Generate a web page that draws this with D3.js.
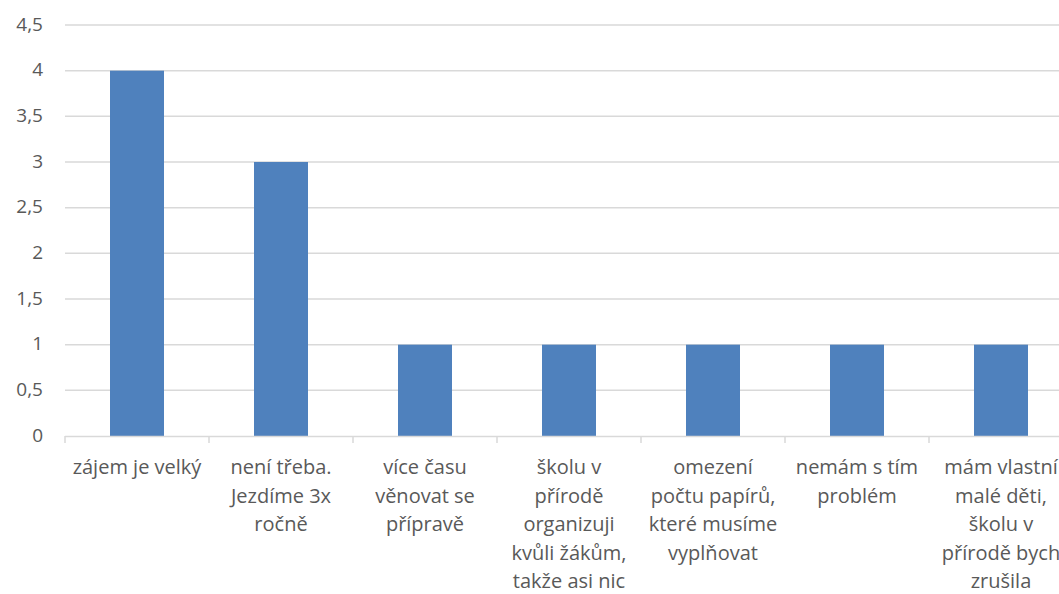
<!DOCTYPE html>
<html>
<head>
<meta charset="utf-8">
<script src="https://cdn.jsdelivr.net/npm/d3@7"></script>
<style>
  body { margin: 0; background: #fff; overflow: hidden; }
  svg text { font-family: "Open Sans", "Noto Sans", sans-serif; fill: #595959; }
</style>
</head>
<body>
<svg id="graf" width="1059" height="594"></svg>
<script>
// data
const categories = [
  "zájem je velký",
  "není třeba.\nJezdíme 3x\nročně",
  "více času\nvěnovat se\npřípravě",
  "školu v\npřírodě\norganizuji\nkvůli žákům,\ntakže asi nic",
  "omezení\npočtu papírů,\nkteré musíme\nvyplňovat",
  "nemám s tím\nproblém",
  "mám vlastní\nmalé děti,\nškolu v\npřírodě bych\nzrušila"
];
const values = [4, 3, 1, 1, 1, 1, 1];
const yTicks = [0, 0.5, 1, 1.5, 2, 2.5, 3, 3.5, 4, 4.5];

const svg = d3.select("#graf");
const plotLeft = 65, plotRight = 1073, plotTop = 25, plotBottom = 436;

const xScale = d3.scaleBand()
  .domain(d3.range(categories.length))
  .range([plotLeft, plotRight])
  .paddingInner(0)
  .paddingOuter(0);

const yScale = d3.scaleLinear()
  .domain([0, 4.5])
  .range([plotBottom, plotTop]);

const fmt = d => String(d).replace(".", ",");

// gridlines
svg.append("g")
  .selectAll("line")
  .data(yTicks.filter(d => d > 0))
  .enter()
  .append("line")
  .attr("x1", plotLeft)
  .attr("x2", plotRight)
  .attr("y1", d => yScale(d))
  .attr("y2", d => yScale(d))
  .attr("stroke", "#d9d9d9")
  .attr("stroke-width", 1.5);

// y labels
const yAxis = d3.axisLeft(yScale).tickValues(yTicks).tickFormat(fmt).tickSize(0).tickPadding(0);
const yg = svg.append("g")
  .attr("transform", "translate(43,-1)")
  .call(yAxis);
yg.select(".domain").remove();
yg.selectAll("text")
  .attr("font-size", 19)
  .attr("font-family", "'Open Sans', sans-serif")
  .attr("fill", "#595959");

// bars
const barW = 54;
svg.selectAll("rect.bar")
  .data(values)
  .enter()
  .append("rect")
  .attr("class", "bar")
  .attr("x", (d, i) => xScale(i) + xScale.bandwidth() / 2 - barW / 2)
  .attr("y", d => yScale(d))
  .attr("width", barW)
  .attr("height", d => plotBottom - yScale(d))
  .attr("fill", "#4f81bd");

// x axis line + ticks
svg.append("line")
  .attr("x1", plotLeft).attr("x2", plotRight)
  .attr("y1", plotBottom + 0.5).attr("y2", plotBottom + 0.5)
  .attr("stroke", "#d9d9d9").attr("stroke-width", 1.5);

svg.append("g")
  .selectAll("line")
  .data(d3.range(categories.length + 1))
  .enter()
  .append("line")
  .attr("x1", i => plotLeft + i * xScale.bandwidth())
  .attr("x2", i => plotLeft + i * xScale.bandwidth())
  .attr("y1", plotBottom)
  .attr("y2", plotBottom + 7)
  .attr("stroke", "#d9d9d9")
  .attr("stroke-width", 1.5);

// category labels
const lbl = svg.append("g")
  .selectAll("text")
  .data(categories)
  .enter()
  .append("text")
  .attr("text-anchor", "middle")
  .attr("font-size", 20)
  .attr("x", (d, i) => xScale(i) + xScale.bandwidth() / 2)
  .attr("y", 474);

lbl.each(function(d, i) {
  const t = d3.select(this);
  d.split("\n").forEach((line, k) => {
    t.append("tspan")
      .attr("x", xScale(i) + xScale.bandwidth() / 2)
      .attr("dy", k === 0 ? 0 : 28.6)
      .text(line);
  });
});
</script>
</body>
</html>
